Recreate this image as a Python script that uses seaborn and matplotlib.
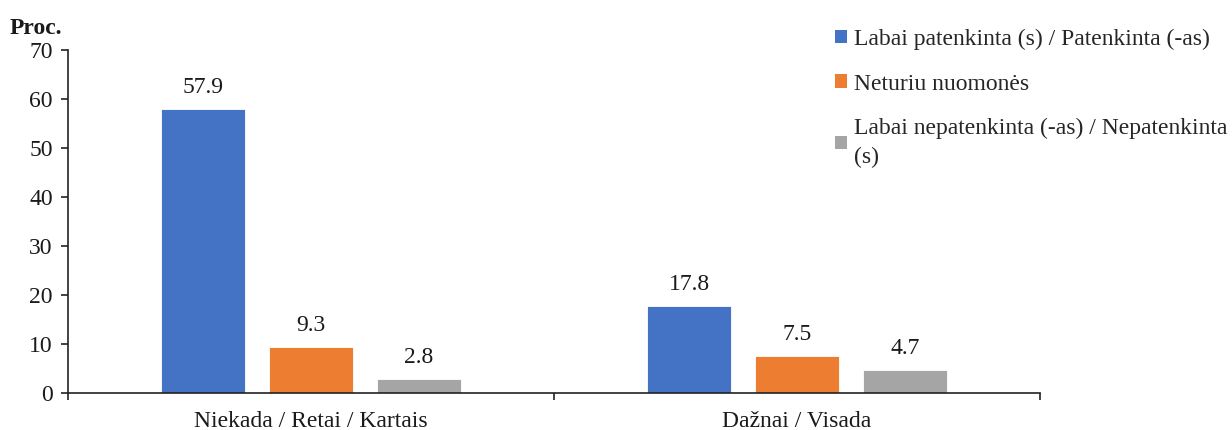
import matplotlib
matplotlib.use("Agg")
import matplotlib.pyplot as plt
import seaborn as sns
import pandas as pd
from matplotlib.patches import Patch

# Data
categories = ["Niekada / Retai / Kartais", "Dažnai / Visada"]
series = [
    "Labai patenkinta (s) / Patenkinta (-as)",
    "Neturiu nuomonės",
    "Labai nepatenkinta (-as) / Nepatenkinta\n(s)",
]
values_satisfied = [57.9, 17.8]
values_neutral = [9.3, 7.5]
values_unsatisfied = [2.8, 4.7]
colors = ["#4472C4", "#ED7D31", "#A5A5A5"]

rows = []
for name, vals in zip(series, [values_satisfied, values_neutral, values_unsatisfied]):
    for cat, v in zip(categories, vals):
        rows.append({"cat": cat, "series": name, "value": v})
df = pd.DataFrame(rows)

sns.set_theme(style="white")
plt.rcParams["font.family"] = ["Liberation Serif", "DejaVu Serif"]

FS = 17
fig = plt.figure(figsize=(12.32, 4.30), dpi=100)
ax = fig.add_axes([0.0552, 0.086, 0.789, 0.798])

sns.barplot(data=df, x="cat", y="value", hue="series", hue_order=series,
            order=categories, palette=colors, saturation=1, width=0.665, gap=0.22,
            ax=ax, legend=False, edgecolor="white", linewidth=0.6)

for cont in ax.containers:
    ax.bar_label(cont, fmt="%.1f", padding=8, fontsize=FS, color="#1a1a1a")

ax.set_ylim(0, 70)
ax.set_xlim(-0.5, 1.5)
ax.set_yticks(range(0, 71, 10))
ax.set_xlabel("")
ax.set_ylabel("")

# category boundaries as major ticks, labels on minor ticks at centers
ax.set_xticks([-0.5, 0.5, 1.5])
ax.set_xticklabels([])
ax.set_xticks([0, 1], minor=True)
ax.set_xticklabels(categories, minor=True)
ax.tick_params(axis="x", which="major", direction="out", length=5, width=1.2,
               color="#222222", bottom=True)
ax.tick_params(axis="x", which="minor", length=0, pad=13, labelsize=FS,
               labelcolor="#1a1a1a")
ax.tick_params(axis="y", direction="out", length=5, width=1.2, color="#222222",
               left=True, labelsize=FS, labelcolor="#1a1a1a", pad=6)

for s in ["top", "right"]:
    ax.spines[s].set_visible(False)
for s in ["left", "bottom"]:
    ax.spines[s].set_color("#222222")
    ax.spines[s].set_linewidth(1.2)

fig.text(0.008, 0.933, "Proc.", fontsize=FS, fontweight="bold",
         color="#1a1a1a", ha="left", va="center")

handles = [Patch(facecolor=c, edgecolor="none") for c in colors]
leg = fig.legend(handles, series, loc="upper left", bbox_to_anchor=(0.670, 0.955),
                 frameon=False, fontsize=FS, handlelength=0.5, handleheight=0.5,
                 handletextpad=0.3, labelspacing=1.0, borderaxespad=0)
for t in leg.get_texts():
    t.set_linespacing(1.45)

fig.savefig("out.png", dpi=100, facecolor="white")
